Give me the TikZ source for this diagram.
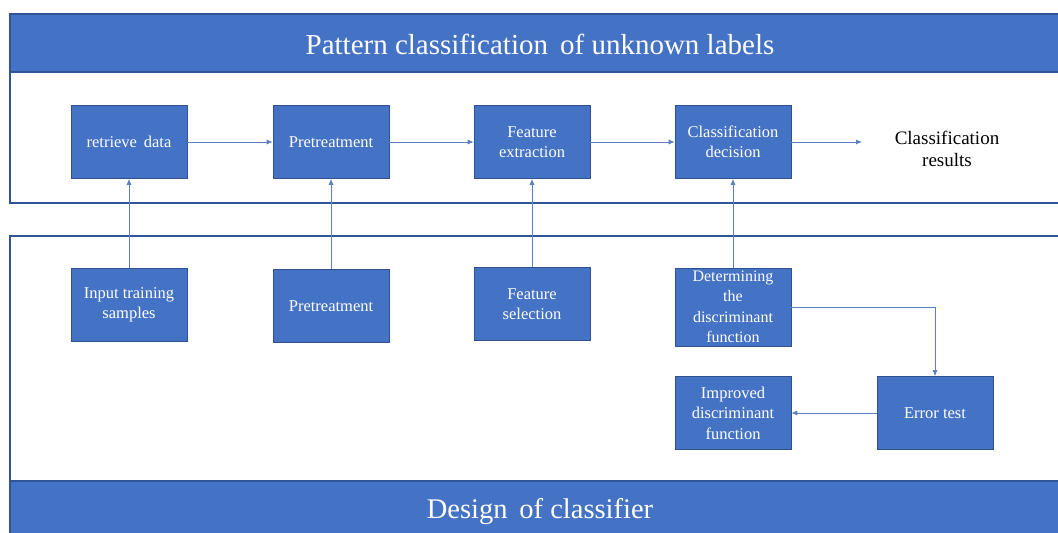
\documentclass[tikz,border=0pt]{standalone}
\usepackage{fontspec}
\setmainfont{Liberation Serif}
\usetikzlibrary{arrows.meta}
\definecolor{boxblue}{HTML}{4472C4}
\definecolor{edgeblue}{HTML}{2F528F}
\definecolor{panelline}{HTML}{2F5597}
\definecolor{arrowblue}{HTML}{5B7FC0}
\tikzset{
  stage/.style={draw=edgeblue, line width=0.6pt, fill=boxblue, text=white,
    minimum width=116pt, minimum height=73pt, align=center, inner sep=2pt,
    font=\fontsize{16.5}{18}\selectfont},
  flow/.style={draw=arrowblue, line width=0.8pt, -{Latex[length=6pt,width=5pt]}},
  panel/.style={draw=panelline, line width=1.6pt},
  band/.style={fill=boxblue},
  bandtext/.style={text=white, font=\fontsize{29}{32}\selectfont},
}
\begin{document}
\begin{tikzpicture}[x=1pt, y=-1pt]
\useasboundingbox (0,0) rectangle (1058,533);
% upper panel with its title band
\fill[band] (10,14) rectangle (1062,72);
\draw[panel] (1062,14) -- (10,14) -- (10,203) -- (1062,203);
\draw[panel] (10,72) -- (1062,72);
\node[bandtext] (toptitle) at (540,44) {Pattern classification\, of unknown labels};
% lower panel with its title band
\fill[band] (10,481) rectangle (1062,537);
\draw[panel] (1062,236) -- (10,236) -- (10,537);
\draw[panel] (10,481) -- (1062,481);
\node[bandtext, font=\fontsize{28.5}{32}\selectfont] (bottitle) at (540,512) {Design\, of classifier};

% recognition chain
\node[stage] (retr) at (129,142) {retrieve\, data};
\node[stage] (pre1) at (331,142) {Pretreatment};
\node[stage, font=\fontsize{16.5}{20}\selectfont] (fext) at (532,142) {Feature\\extraction};
\node[stage, font=\fontsize{16.5}{20}\selectfont] (cdec) at (733,142) {Classification\\decision};
\node[font=\fontsize{19}{22}\selectfont, align=center] (cres) at (947,149) {Classification\\results};
\coordinate (cresin) at (862,142);

% training chain
\node[stage, font=\fontsize{16.5}{20}\selectfont] (inp) at (129,305) {Input training\\samples};
\node[stage] (pre2) at (331,306) {Pretreatment};
\node[stage, font=\fontsize{16.5}{20}\selectfont] (fsel) at (532,304) {Feature\\selection};
\node[stage, minimum height=78pt, font=\fontsize{16}{20.5}\selectfont] (det) at (733,307) {Determining\\the\\discriminant\\function};
\node[stage] (err) at (935,413) {Error test};
\node[stage, font=\fontsize{16.5}{20.5}\selectfont] (imp) at (733,413) {Improved\\discriminant\\function};

% connectors
\draw[flow] (retr) -- (pre1);
\draw[flow] (pre1) -- (fext);
\draw[flow] (fext) -- (cdec);
\draw[flow] (cdec) -- (cresin);
\draw[flow] (inp) -- (retr);
\draw[flow] (pre2) -- (pre1);
\draw[flow] (fsel) -- (fext);
\draw[flow] (det.north) -- (cdec.south);
\draw[flow] (det.east) -| (err.north);
\draw[flow] (err) -- (imp);
\end{tikzpicture}
\end{document}
